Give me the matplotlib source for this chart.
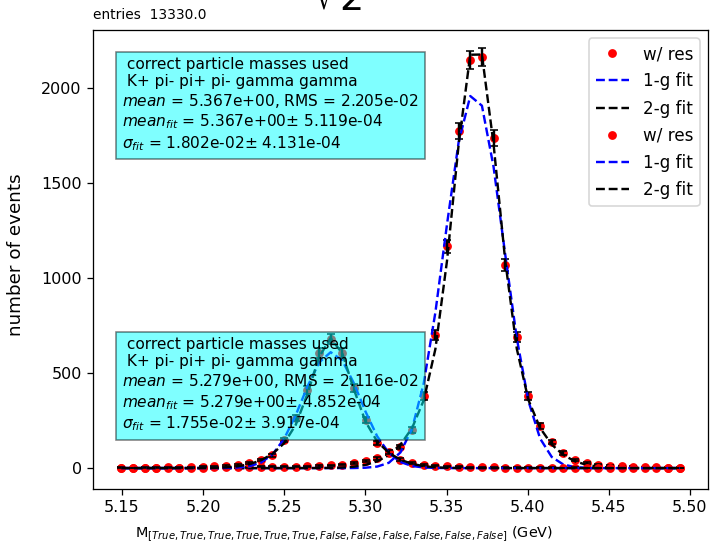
import numpy as np
import matplotlib.pyplot as plt

# common binning of the B mass histograms
bin_lo = 5.1495
bin_w = 0.00717
n_bins = 49

# events per bin, K+ pi- pi+ pi- gamma gamma
counts_bd = [2, 1, 3, 2, 4, 3, 5, 6, 9, 11, 16, 26, 42, 68, 147, 262, 410, 605, 680,
             605, 421, 253, 132, 84, 45, 28, 17, 12, 9, 7, 5, 4, 4, 3, 3, 2, 2, 2, 1,
             2, 1, 1, 1, 0, 1, 0, 1, 0, 0]
counts_bs = [2, 1, 2, 2, 3, 2, 3, 3, 4, 4, 5, 5, 6, 7, 7, 8, 9, 11, 14, 18, 26, 37,
             52, 79, 111, 200, 379, 700, 1168, 1775, 2147, 2163, 1738, 1068, 689, 379,
             221, 137, 79, 42, 28, 18, 12, 9, 7, 5, 4, 3, 3]

# fit results: 1-g (amp, mean, sigma), 2-g (amp1, sigma1, amp2, sigma2, mean)
fit1_bd = [610, 5.279, 0.01755]
fit2_bd = [400, 0.011, 285, 0.022, 5.279]
fit1_bs = [1975, 5.367, 0.01802]
fit2_bs = [1550, 0.0125, 695, 0.025, 5.3682]

info_bd = (" correct particle masses used\n K+ pi- pi+ pi- gamma gamma\n"
           "$mean$ = 5.279e+00, RMS = 2.116e-02\n"
           "$mean_{fit}$ = 5.279e+00$\\pm$ 4.852e-04\n"
           "$\\sigma_{fit}$ = 1.755e-02$\\pm$ 3.917e-04")
info_bs = (" correct particle masses used\n K+ pi- pi+ pi- gamma gamma\n"
           "$mean$ = 5.367e+00, RMS = 2.205e-02\n"
           "$mean_{fit}$ = 5.367e+00$\\pm$ 5.119e-04\n"
           "$\\sigma_{fit}$ = 1.802e-02$\\pm$ 4.131e-04")
entries = 13330.0


def gauss(x, a, mu, s):
    return a * np.exp(-0.5 * ((x - mu) / s) ** 2)


x = bin_lo + bin_w * np.arange(n_bins)

fig = plt.figure(figsize=(712 / 115, 547 / 115), dpi=115)
ax = fig.add_axes([93 / 712, 58 / 547, 615 / 712, 459 / 547])

for counts, f1, f2, info, ytxt in [(counts_bs, fit1_bs, fit2_bs, info_bs, 1658),
                                   (counts_bd, fit1_bd, fit2_bd, info_bd, 184)]:
    y = np.array(counts, dtype=float)
    ax.plot(x, y, 'ro', markersize=4.5, label='w/ res')
    ax.errorbar(x, y, yerr=np.sqrt(y), fmt='none', ecolor='black', capsize=2.5)
    ax.plot(x, gauss(x, *f1), 'b--', label='1-g fit')
    a1, s1, a2, s2, mu = f2
    ax.plot(x, gauss(x, a1, mu, s1) + gauss(x, a2, mu, s2), 'k--', label='2-g fit')
    ax.text(5.15, ytxt, info, ha='left', va='bottom', fontsize=9.6,
            bbox=dict(facecolor='cyan', alpha=0.5))

ax.set_xlim(5.1321, 5.5111)
ax.set_ylim(-110, 2305)
ax.set_xticks(np.arange(5.15, 5.501, 0.05))
ax.set_xlabel('M$_{[True, True, True, True, True, True, False, False, False, False, False, False]}$ (GeV)',
              fontsize=9)
ax.xaxis.set_label_coords(0.408, -0.078)
ax.set_ylabel('number of events', fontsize=11.5)
ax.yaxis.set_label_coords(-0.11, 0.51)
ax.legend(loc='upper right', fontsize=10.5, labelspacing=0.55)

ax.text(0.0, 1.024, 'entries  ' + str(entries), transform=ax.transAxes, fontsize=8.6)
fig.text(312 / 712, 1 - 11 / 547, r'$\sqrt{2}$', fontsize=24, va='baseline')

fig.savefig('out.png', dpi=115)
